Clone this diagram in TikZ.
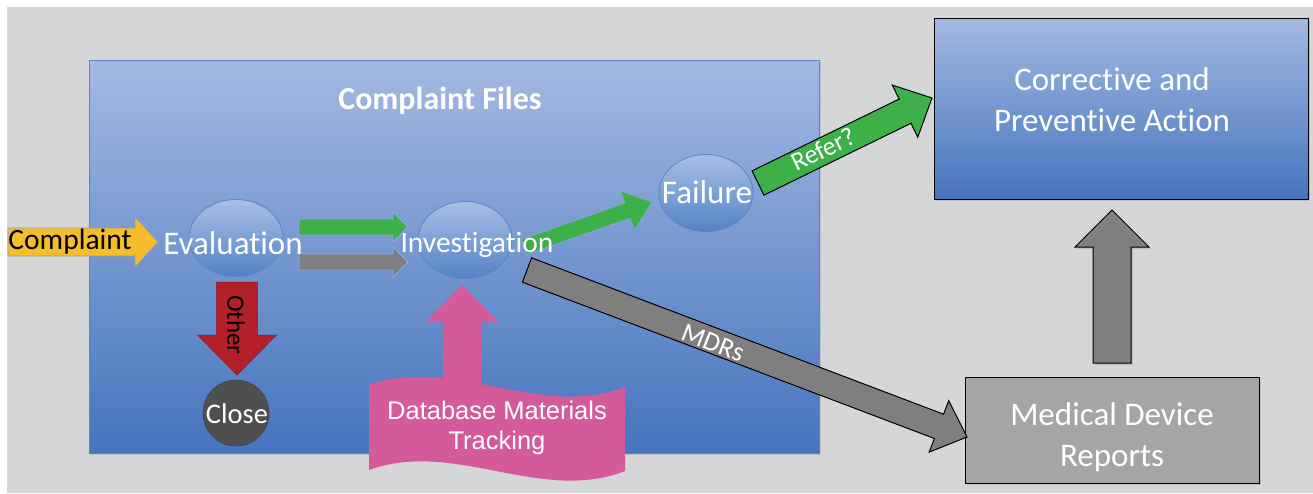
\documentclass[tikz,border=0pt]{standalone}
\usepackage{fontspec}
\setmainfont{Carlito}[Ligatures=NoCommon]
\newfontfamily\arialfont{Liberation Sans}
\usetikzlibrary{calc,shadows,shapes.geometric}

\definecolor{canvasgray}{HTML}{D5D6D7}
\definecolor{boxtop}{HTML}{A3B9E1}
\definecolor{boxbottom}{HTML}{4674BE}
\definecolor{boxedge}{HTML}{5A85C8}
\definecolor{ovaltop}{HTML}{A9BFE4}
\definecolor{ovalbottom}{HTML}{5482C7}
\definecolor{arrowgreen}{HTML}{3DB04A}
\definecolor{arrowgray}{HTML}{7F7F7F}
\definecolor{arrowyellow}{HTML}{F5BD2A}
\definecolor{arrowred}{HTML}{B3202A}
\definecolor{arrowpink}{HTML}{D45A9A}
\definecolor{closegray}{HTML}{4F4F4F}
\definecolor{reportgray}{HTML}{A5A5A5}
\definecolor{glow}{HTML}{8FAADB}

% block arrow: style, tail, tip, half body width, half head width, head length
\newcommand\blockarrow[6]{%
  \coordinate (ba-t) at (#2);
  \coordinate (ba-h) at (#3);
  \coordinate (ba-b) at ($(ba-h)!#6!(ba-t)$);
  \path[#1]
    ($(ba-t)!#4!90:(ba-h)$) -- ($(ba-b)!#4!-90:(ba-t)$) --
    ($(ba-b)!#5!-90:(ba-t)$) -- (ba-h) --
    ($(ba-b)!#5!90:(ba-t)$) -- ($(ba-b)!#4!90:(ba-t)$) --
    ($(ba-t)!#4!-90:(ba-h)$) -- cycle;
}

\tikzset{
  oval/.style={ellipse, minimum width=94pt, minimum height=77pt, inner sep=0pt,
    draw=boxedge, line width=0.8pt, top color=ovaltop, bottom color=ovalbottom},
  bigtext/.style={text=white, font=\fontsize{33}{41}\selectfont},
  outlined/.style={draw=black, line width=1pt, line join=miter},
}

\begin{document}
\begin{tikzpicture}[x=1pt, y=-1pt]
\useasboundingbox (0,0) rectangle (1313,493);
\fill[white] (0,0) rectangle (1313,493);
\fill[canvasgray] (7,7) rectangle (1313,493);

% the complaint files region
\node[draw=boxedge, line width=0.8pt, top color=boxtop, bottom color=boxbottom,
  minimum width=730pt, minimum height=393pt, inner sep=0pt,
  drop shadow={shadow xshift=1.5pt, shadow yshift=-1.5pt, opacity=0.25}]
  (files) at (454,256.5) {};
\node[text=white, font=\fontsize{32}{38}\selectfont\bfseries] (filestitle) at (440,101) {Complaint Files};

% ovals
\node[oval] (eval) at (236,238) {};
\node[oval] (inv) at (465,240) {};
\node[oval] (fail) at (706,193) {};

% side boxes
\node[outlined, top color=boxtop, bottom color=boxbottom, minimum width=374pt, minimum height=181pt,
  inner sep=0pt, drop shadow={shadow xshift=2pt, shadow yshift=-2pt, opacity=0.3}]
  (capa) at (1121,108.5) {};
\node[outlined, fill=reportgray, minimum width=294pt, minimum height=106pt, inner sep=0pt,
  drop shadow={shadow xshift=2pt, shadow yshift=-2pt, opacity=0.3}]
  (mdr) at (1112,430) {};
\node[circle, fill=closegray, draw=closegray!70!black, minimum size=66pt, inner sep=0pt] (close) at (236,413) {};

% arrow end points
\coordinate (cpl-tail) at (8,242);
\coordinate (cpl-tip) at (158,242);
\coordinate (g1-tail) at (299,227);
\coordinate (g1-tip) at (408,227);
\coordinate (g2-tail) at (299,262);
\coordinate (g2-tip) at (408,262);
\coordinate (fail-tail) at (524,247);
\coordinate (fail-tip) at (652,202);
\coordinate (refer-tail) at (758,183);
\coordinate (refer-tip) at (932,98);
\coordinate (mdrs-tail) at (527,270);
\coordinate (mdrs-tip) at (967,437);
\coordinate (other-tail) at (237,282);
\coordinate (other-tip) at (237,375);
\coordinate (db-tail) at (462,386);
\coordinate (db-tip) at (462,285);
\coordinate (up-tail) at (1112,363);
\coordinate (up-tip) at (1112,210);

% block arrows
\blockarrow{fill=arrowyellow, draw=glow!70!gray, line width=0.6pt}{cpl-tail}{cpl-tip}{14pt}{25pt}{23pt}
\blockarrow{fill=arrowgreen, draw=glow, line width=0.8pt}{g1-tail}{g1-tip}{8pt}{15pt}{15pt}
\blockarrow{fill=arrowgray, draw=glow, line width=0.8pt}{g2-tail}{g2-tip}{8pt}{15pt}{15pt}
\blockarrow{fill=arrowgreen, draw=glow, line width=0.6pt}{fail-tail}{fail-tip}{8pt}{21pt}{26pt}
\blockarrow{fill=arrowgreen, outlined}{refer-tail}{refer-tip}{13.5pt}{29pt}{30pt}
\blockarrow{fill=arrowgray, outlined}{mdrs-tail}{mdrs-tip}{13pt}{27.5pt}{30pt}
\blockarrow{fill=arrowred, draw=arrowred!80!black, line width=0.5pt}{other-tail}{other-tip}{20.5pt}{39.5pt}{40pt}
\blockarrow{fill=arrowpink}{db-tail}{db-tip}{19pt}{36.5pt}{37pt}
\blockarrow{fill=arrowgray, outlined, drop shadow={shadow xshift=2pt, shadow yshift=-2pt, opacity=0.3}}{up-tail}{up-tip}{19pt}{37pt}{37pt}

% wave banner
\fill[arrowpink] (369,385) .. controls (455,355) and (540,420) .. (625,387)
  -- (625,471) .. controls (540,504) and (455,439) .. (369,470) -- cycle;

% texts
\node[font=\fontsize{29.5}{34}\selectfont, inner sep=0pt] (cpltext) at (70,242) {Complaint};
\node[bigtext, inner sep=0pt] (evaltext) at (233,243) {Evaluation};
\node[text=white, font=\fontsize{29.5}{34}\selectfont, inner sep=0pt] (invtext) at (477,245) {Investigation};
\node[bigtext, inner sep=0pt] (failtext) at (707,192) {Failure};
\node[text=white, font=\fontsize{28.5}{32}\selectfont, inner sep=0pt] (closetext) at (237,414) {Close};
\node[rotate=-90, font=\fontsize{25}{29}\selectfont, inner sep=0pt] (othertext) at (236,325) {Other};
\node[rotate=26, text=white, font=\fontsize{26}{30}\selectfont, inner sep=0pt] (refertext) at (823,149) {Refer?};
\node[rotate=-21, text=white, font=\fontsize{27}{31}\selectfont, inner sep=0pt] (mdrstext) at (713,343) {MDRs};
\node[bigtext, align=center, inner sep=0pt] (capatext) at (1112,100) {Corrective and\\Preventive Action};
\node[bigtext, align=center, inner sep=0pt] (mdrtext) at (1112,437) {Medical Device\\Reports};
\node[text=white, align=center, font=\arialfont\fontsize{25.5}{30}\selectfont, inner sep=0pt] (dbtext) at (497,428) {Database Materials\\Tracking};
\end{tikzpicture}
\end{document}
